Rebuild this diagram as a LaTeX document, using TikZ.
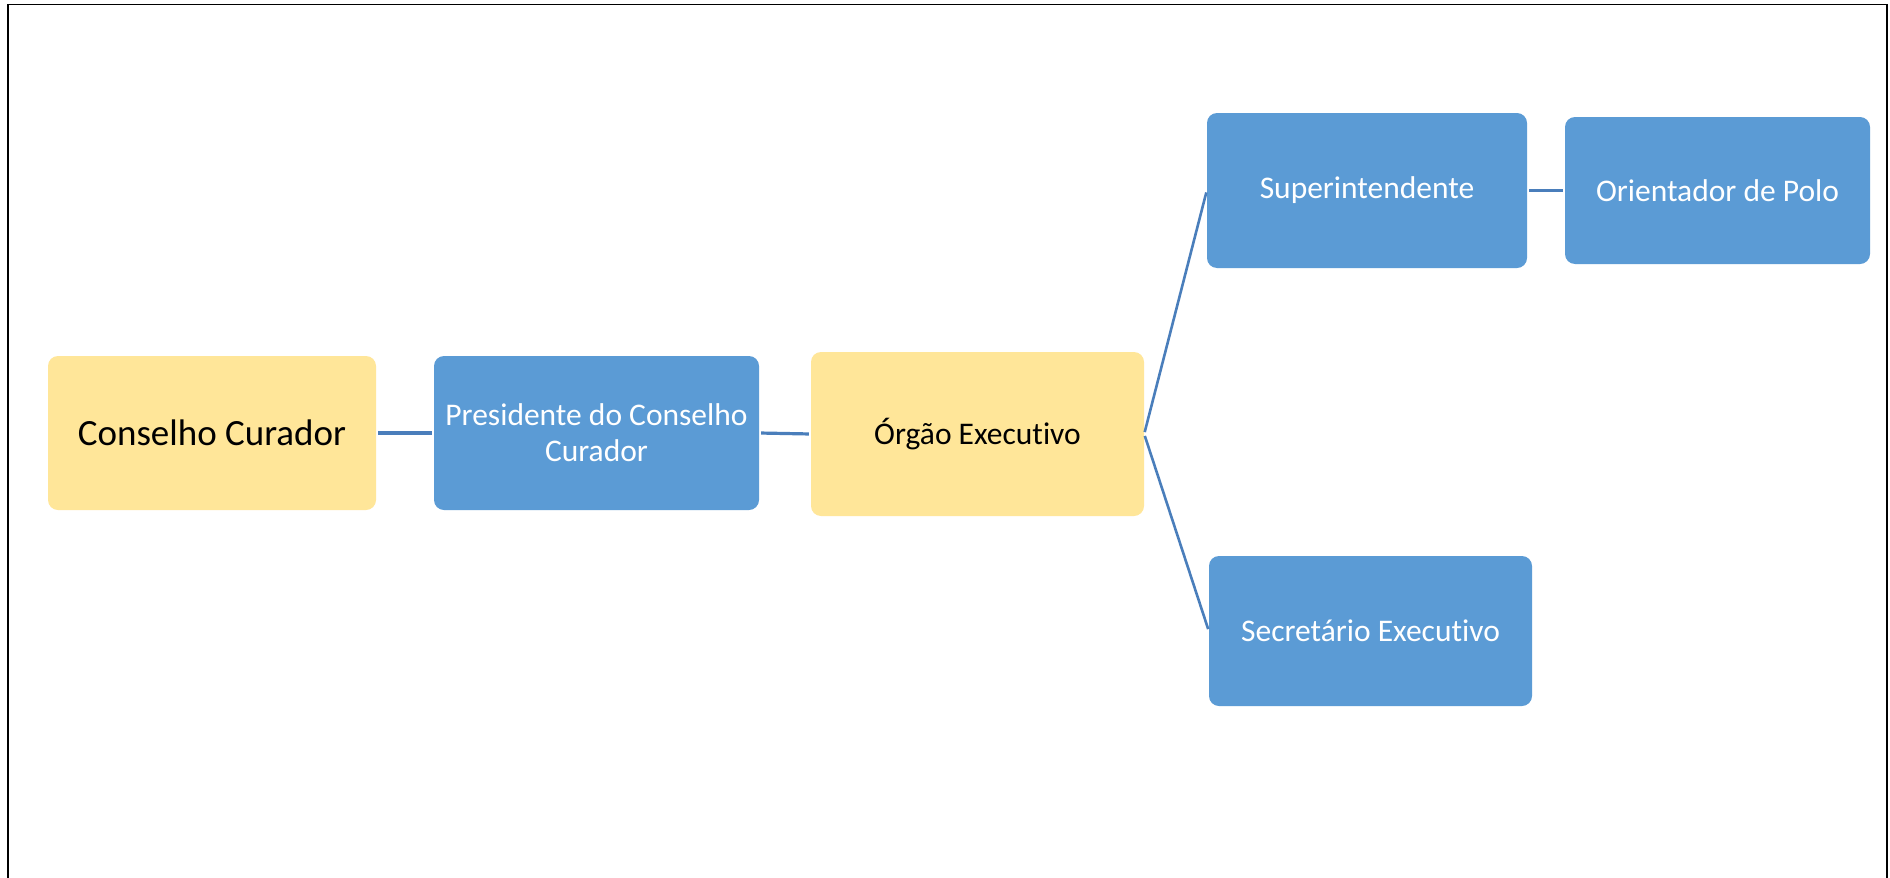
\documentclass[tikz,border=0pt]{standalone}
\usepackage{fontspec}
\setmainfont{Carlito}[Ligatures={NoCommon}]
\definecolor{boxblue}{HTML}{5B9BD5}
\definecolor{boxyellow}{HTML}{FFE699}
\definecolor{linkblue}{HTML}{4A7EBB}
\tikzset{
  orgbox/.style={rounded corners=10pt, inner sep=0pt, align=center, font=\fontsize{31.5}{36}\selectfont},
  bluebox/.style={orgbox, fill=boxblue, text=white},
  yellowbox/.style={orgbox, fill=boxyellow, text=black},
  link/.style={draw=linkblue, line width=3.2pt, shorten <=2pt, shorten >=2pt},
  slantlink/.style={link, line width=2.6pt},
  frameline/.style={draw=black, line width=1.8pt}
}
\begin{document}
\begin{tikzpicture}[x=1pt,y=-1pt]
\useasboundingbox (0,0) rectangle (1890,878);
\fill[white] (0,0) rectangle (1890,878);
\draw[frameline] (8,878) -- (8,4.5) -- (1887,4.5) -- (1887,878);

\node[yellowbox, minimum width=328pt, minimum height=154pt, font=\fontsize{37}{44}\selectfont] (cc) at (212,433) {Conselho Curador};
\node[bluebox, minimum width=325pt, minimum height=154pt] (pc) at (596.5,433) {Presidente do Conselho\\Curador};
\node[yellowbox, minimum width=333pt, minimum height=164pt] (oe) at (977.5,434) {Órgão Executivo};
\node[bluebox, minimum width=320pt, minimum height=155pt] (su) at (1367,190.5) {Superintendente};
\node[bluebox, minimum width=305pt, minimum height=147pt] (op) at (1717.5,190.5) {Orientador de Polo};
\node[bluebox, minimum width=323pt, minimum height=150pt] (se) at (1370.5,631) {Secretário Executivo};

\draw[link] (cc.east) -- (pc.west);
\draw[link] (pc.east) -- (oe.west);
\draw[slantlink] (oe.east) -- (su.west);
\draw[slantlink] (oe.east) -- (se.west);
\draw[link] (su.east) -- (op.west);
\end{tikzpicture}
\end{document}
